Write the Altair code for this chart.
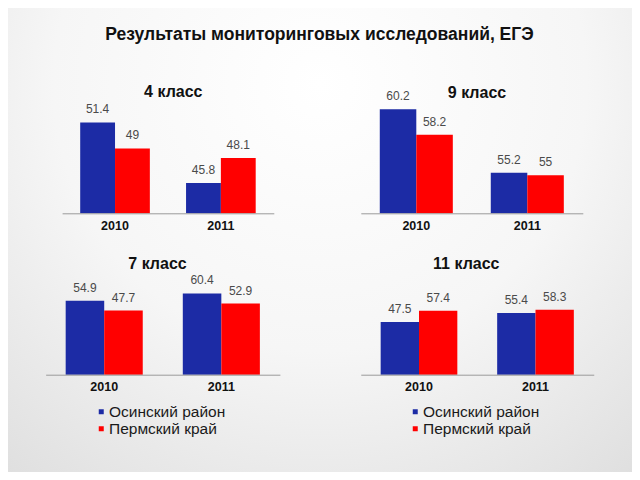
import altair as alt
import pandas as pd

main_title = "Результаты мониторинговых исследований, ЕГЭ"
grades = ["4 класс", "9 класс", "7 класс", "11 класс"]
years = ["2010", "2011"]
series = ["Осинский район", "Пермский край"]
osinsky = [[51.4, 45.8], [60.2, 55.2], [54.9, 60.4], [47.5, 55.4]]
perm = [[49, 48.1], [58.2, 55], [47.7, 52.9], [57.4, 58.3]]
y_domains = [[43, 53], [52, 61], [0, 70], [0, 70]]
colors = ["#1c2ba5", "#ff0000"]

W, H = 624, 464
FONT = "Liberation Sans"

# panel placement (chart pixel coordinates)
layout = [
    dict(xr=[54.1, 265.8], base=205.3, ppu=10.82, title=(165.3, 84), legend=(80.5, 396)),
    dict(xr=[352.8, 574.8], base=205.3, ppu=12.68, title=(469, 85), legend=(394.5, 396)),
    dict(xr=[37.65, 271.9], base=366.7, ppu=1.345, title=(149.5, 256), legend=None),
    dict(xr=[352.75, 585.75], base=366.7, ppu=1.112, title=(458.3, 256), legend=None),
]


def panel(i):
    g = grades[i]
    lo, hi = y_domains[i]
    L = layout[i]
    rows = []
    for j, yr in enumerate(years):
        rows.append({"year": yr, "series": series[0], "value": osinsky[i][j]})
        rows.append({"year": yr, "series": series[1], "value": perm[i][j]})
    df = pd.DataFrame(rows)
    top = L["base"] - (hi - lo) * L["ppu"]
    x = alt.X(
        "year:N",
        sort=years,
        scale=alt.Scale(domain=years, range=L["xr"], paddingInner=0.342, paddingOuter=0.171),
        axis=alt.Axis(
            orient="bottom",
            offset=L["base"] - H,
            zindex=1,
            title=None,
            ticks=False,
            labelAngle=0,
            labelFont=FONT,
            labelFontSize=12.5,
            labelFontWeight="bold",
            labelColor="#111111",
            labelPadding=6,
            domainColor="#9a9a9a",
            domainWidth=1,
            grid=False,
        ),
    )
    xo = alt.XOffset(
        "series:N",
        sort=series,
        scale=alt.Scale(domain=series, paddingInner=0, paddingOuter=0),
    )
    y = alt.Y(
        "value:Q",
        scale=alt.Scale(domain=[lo, hi], range=[L["base"], top], zero=False, nice=False),
        axis=None,
    )
    if L["legend"] is not None:
        legend = alt.Legend(
            orient="none",
            legendX=L["legend"][0],
            legendY=L["legend"][1],
            title=None,
            symbolType="square",
            symbolSize=25,
            symbolStrokeWidth=0,
            symbolOffset=5,
            labelFont=FONT,
            labelFontSize=15.5,
            labelColor="#1a1a1a",
            labelOffset=0,
            rowPadding=0,
            padding=0,
        )
    else:
        legend = None
    color = alt.Color(
        "series:N",
        sort=series,
        scale=alt.Scale(domain=series, range=colors),
        legend=legend,
    )
    base = alt.Chart(df)
    bars = base.mark_bar().encode(
        x=x, xOffset=xo, y=y, y2=alt.datum(lo), color=color
    )
    labels = base.mark_text(
        font=FONT, fontSize=12, color="#4a4a4a", baseline="middle", dy=-13
    ).encode(x=x, xOffset=xo, y=y, text=alt.Text("value:Q", format="~g"))
    tdf = pd.DataFrame({"t": [g]})
    ttl = alt.Chart(tdf).mark_text(
        font=FONT, fontSize=16, fontWeight="bold", color="#111111", baseline="middle"
    ).encode(x=alt.value(L["title"][0]), y=alt.value(L["title"][1]), text="t:N")
    return alt.layer(bars, labels, ttl)


bg = alt.Chart(pd.DataFrame({"a": [0]})).mark_rect(
    fill={
        "gradient": "radial",
        "x1": 0.5, "y1": 0.25, "r1": 0,
        "x2": 0.5, "y2": 0.25, "r2": 0.95,
        "stops": [
            {"offset": 0, "color": "#ffffff"},
            {"offset": 0.45, "color": "#f6f6f6"},
            {"offset": 1, "color": "#d6d6d6"},
        ],
    }
).encode(x=alt.value(0), x2=alt.value(W), y=alt.value(0), y2=alt.value(H))

title_chart = alt.Chart(pd.DataFrame({"t": [main_title]})).mark_text(
    font=FONT, fontSize=17.5, fontWeight="bold", color="#111111", baseline="middle"
).encode(x=alt.value(311.5), y=alt.value(27), text="t:N")

chart = (
    alt.layer(bg, title_chart, panel(0), panel(1), panel(2), panel(3))
    .resolve_scale(x="independent", y="independent", color="independent", xOffset="independent")
    .resolve_axis(x="independent", y="independent")
    .resolve_legend(color="independent")
    .properties(width=W, height=H, autosize=alt.AutoSizeParams(type="none"), padding=0)
    .configure_view(stroke=None)
    .configure(background="#ffffff")
)

chart.save("out.html", embed_options={"renderer": "svg", "actions": False})
